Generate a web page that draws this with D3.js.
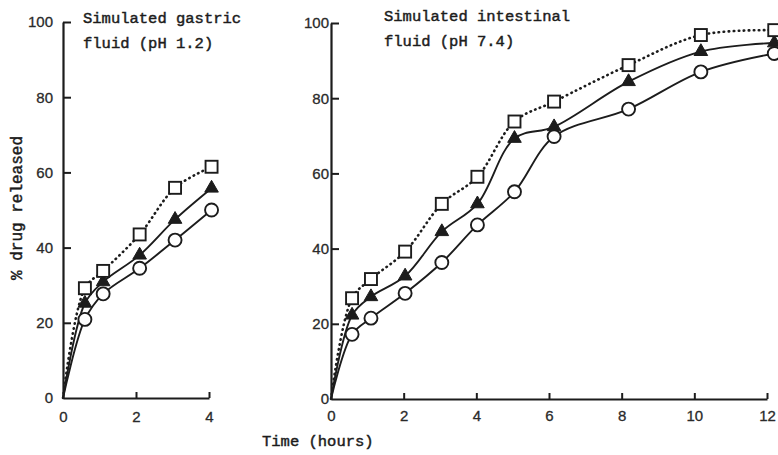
<!DOCTYPE html>
<html>
<head>
<meta charset="utf-8">
<script src="https://cdn.jsdelivr.net/npm/d3@7"></script>
<style>
  html, body { margin: 0; padding: 0; background: #ffffff; }
  svg { display: block; }
</style>
</head>
<body>
<script>
// ---- Data ----
// Simulated gastric fluid (pH 1.2), time in hours
const gastricTimes    = [0, 0.6, 1.1, 2.1, 3.07, 4.07];
const gastricSquare   = [0, 29.2, 33.8, 43.5, 55.9, 61.5];
const gastricTriangle = [0, 25.2, 30.9, 38.0, 47.5, 55.8];
const gastricCircle   = [0, 20.9, 27.7, 34.5, 42.0, 50.0];

// Simulated intestinal fluid (pH 7.4)
const intestTimes    = [0, 0.58, 1.1, 2.04, 3.05, 4.03, 5.05, 6.14, 8.19, 10.18, 12.2];
const intestSquare   = [0, 26.8, 31.9, 39.2, 51.9, 59.1, 73.8, 79.1, 88.8, 96.8, 98.1];
const intestTriangle = [0, 22.3, 27.2, 32.7, 44.5, 51.9, 69.3, 72.4, 84.4, 92.4, 94.7];
const intestCircle   = [0, 17.2, 21.5, 28.1, 36.3, 46.3, 55.1, 69.8, 77.1, 87.0, 91.9];

const yTicks = [0, 20, 40, 60, 80, 100];
const gastricXTicks = [0, 2, 4];
const intestXTicks = [0, 2, 4, 6, 8, 10, 12];

const panelTitles = [
  ["Simulated gastric", "fluid (pH 1.2)"],
  ["Simulated intestinal", "fluid (pH 7.4)"]
];
const xLabel = "Time (hours)";
const yLabel = "% drug released";

// ---- Drawing ----
const W = 778, H = 455;
const ink = "#1c1c1c";
const mono = "'Liberation Mono', 'Courier New', monospace";
const sans = "'Liberation Sans', Arial, sans-serif";

const svg = d3.select("body").append("svg")
  .attr("width", W).attr("height", H)
  .attr("viewBox", `0 0 ${W} ${H}`);

svg.append("rect").attr("width", W).attr("height", H).attr("fill", "#ffffff");

const panels = [
  {
    times: gastricTimes, xTicks: gastricXTicks, xMax: 4,
    xr: [63, 209], yr: [398, 22], labelPad: 10, xPad: 13.5,
    series: { square: gastricSquare, triangle: gastricTriangle, circle: gastricCircle },
    title: panelTitles[0], titleX: 83, titleY: [23, 48]
  },
  {
    times: intestTimes, xTicks: intestXTicks, xMax: 12,
    xr: [331, 767], yr: [399, 23], labelPad: 2, xPad: 11,
    series: { square: intestSquare, triangle: intestTriangle, circle: intestCircle },
    title: panelTitles[1], titleX: 384, titleY: [21, 46]
  }
];

function monoText(sel) {
  sel.attr("fill", ink).attr("stroke", ink).attr("stroke-width", 0.45)
    .style("font-family", mono).style("font-size", "15.5px");
}

panels.forEach(p => {
  const x = d3.scaleLinear().domain([0, p.xMax]).range(p.xr);
  const y = d3.scaleLinear().domain([0, 100]).range(p.yr);
  const g = svg.append("g");

  // Y axis
  const ya = g.append("g")
    .attr("transform", `translate(${p.xr[0]},0)`)
    .call(d3.axisLeft(y).tickValues(yTicks).tickFormat(d3.format("d"))
      .tickSizeInner(-8).tickSizeOuter(0).tickPadding(p.labelPad));
  // X axis
  const xa = g.append("g")
    .attr("transform", `translate(0,${p.yr[0]})`)
    .call(d3.axisBottom(x).tickValues(p.xTicks).tickFormat(d3.format("d"))
      .tickSizeInner(-6).tickSizeOuter(0).tickPadding(p.xPad));

  [ya, xa].forEach(a => {
    a.select(".domain").attr("stroke", ink).attr("stroke-width", 2.2);
    a.selectAll(".tick line").attr("stroke", ink).attr("stroke-width", 2);
    a.selectAll(".tick text").attr("fill", "#2a2a2a")
      .attr("stroke", "#2a2a2a").attr("stroke-width", 0.3)
      .style("font-family", sans).style("font-size", "15px");
  });
  ya.selectAll(".tick").filter(d => d === 0).select("line").remove();
  xa.selectAll(".tick").filter(d => d === 0).select("line").remove();

  // Lines
  const line = d3.line()
    .x(d => x(d[0])).y(d => y(d[1]))
    .curve(d3.curveCatmullRom.alpha(0.5));

  const mk = vals => p.times.map((t, i) => [t, vals[i]]);

  g.append("path").datum(mk(p.series.circle))
    .attr("d", line).attr("fill", "none")
    .attr("stroke", ink).attr("stroke-width", 1.9);
  g.append("path").datum(mk(p.series.triangle))
    .attr("d", line).attr("fill", "none")
    .attr("stroke", ink).attr("stroke-width", 1.9);
  g.append("path").datum(mk(p.series.square))
    .attr("d", line).attr("fill", "none")
    .attr("stroke", ink).attr("stroke-width", 2.6)
    .attr("stroke-linecap", "round")
    .attr("stroke-dasharray", "0.5,4.5");

  // Markers (skip origin)
  const pts = vals => mk(vals).slice(1);

  g.selectAll(".circ").data(pts(p.series.circle)).join("circle")
    .attr("cx", d => x(d[0])).attr("cy", d => y(d[1])).attr("r", 6.5)
    .attr("fill", "#ffffff").attr("stroke", ink).attr("stroke-width", 1.9);

  const tri = d3.symbol().type(d3.symbolTriangle).size(80);
  g.selectAll(".tri").data(pts(p.series.triangle)).join("path")
    .attr("d", tri)
    .attr("transform", d => `translate(${x(d[0])},${y(d[1])})`)
    .attr("fill", ink).attr("stroke", ink).attr("stroke-width", 1);

  g.selectAll(".sq").data(pts(p.series.square)).join("rect")
    .attr("x", d => x(d[0]) - 6).attr("y", d => y(d[1]) - 6)
    .attr("width", 12).attr("height", 12)
    .attr("fill", "#ffffff").attr("stroke", ink).attr("stroke-width", 1.9);

  // Title
  p.title.forEach((t, i) => {
    g.append("text").attr("x", p.titleX).attr("y", p.titleY[i])
      .call(monoText).text(t);
  });
});

// Axis labels
svg.append("text").attr("x", 262).attr("y", 446)
  .call(monoText).text(xLabel);

svg.append("text")
  .attr("transform", "translate(22,208) rotate(-90)")
  .attr("text-anchor", "middle")
  .call(monoText).style("font-size", "16px")
  .text(yLabel);
</script>
</body>
</html>
